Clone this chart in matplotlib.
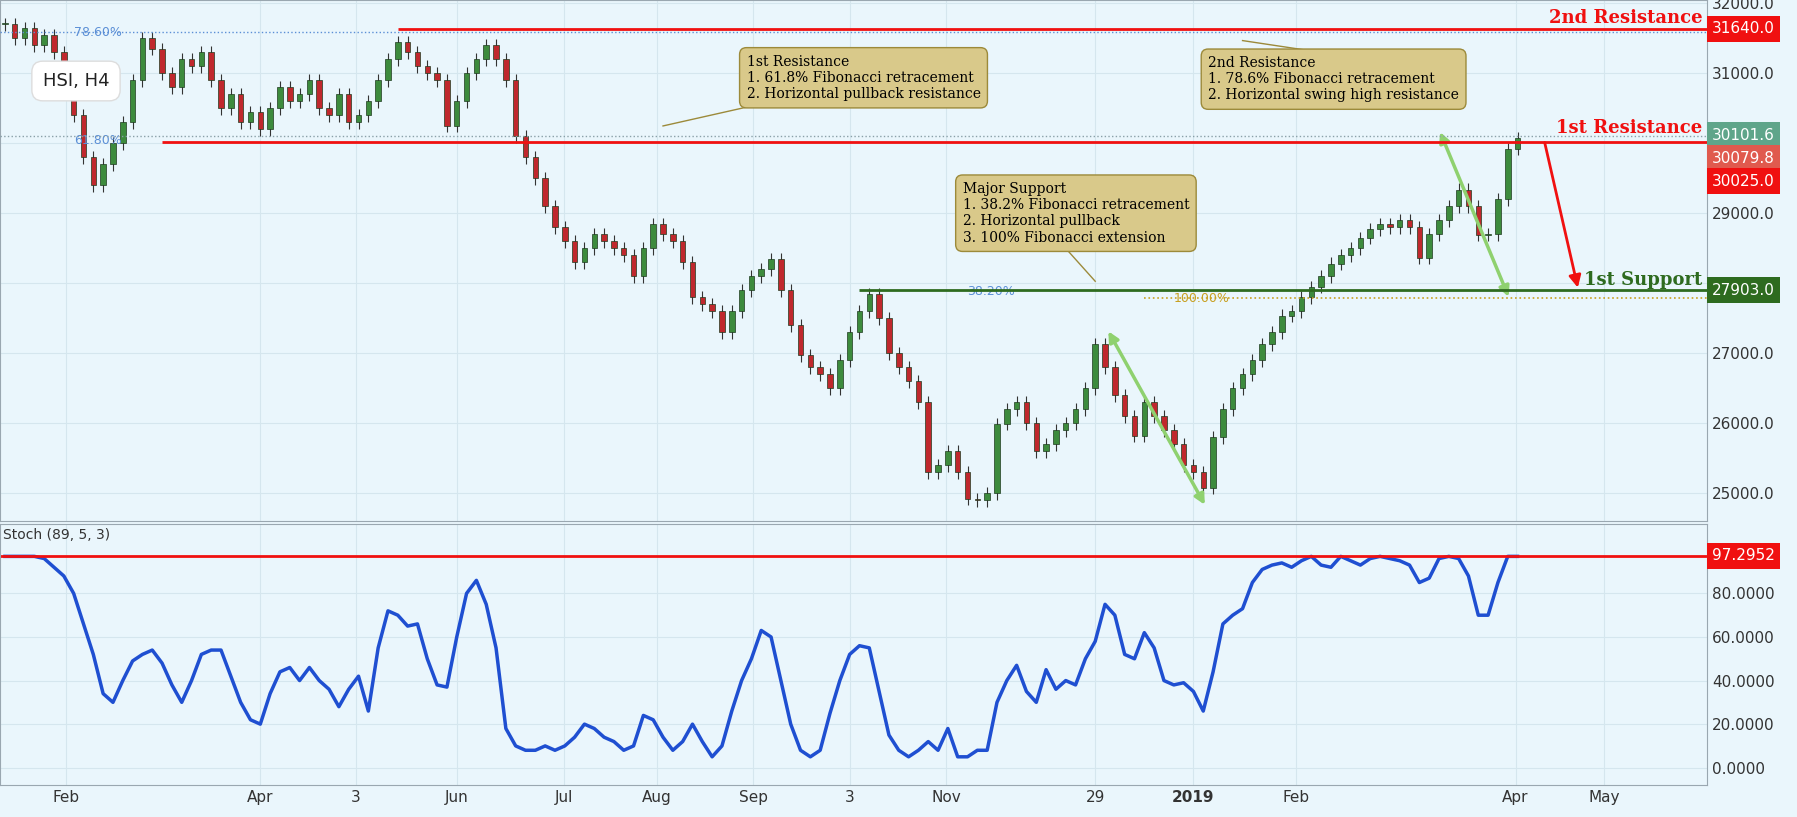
import matplotlib.pyplot as plt
import matplotlib.patches as mpatches
import numpy as np

# closes for each H4-ish candle
closes = [31700, 31500, 31650, 31400, 31550, 31300, 30900, 30400, 29800, 29400,
          29700, 30000, 30300, 30900, 31500, 31350, 31000, 30800, 31200, 31100,
          31300, 30900, 30500, 30700, 30300, 30450, 30200, 30500, 30800, 30600,
          30700, 30900, 30500, 30400, 30700, 30300, 30400, 30600, 30900, 31200,
          31450, 31300, 31100, 31000, 30900, 30250, 30600, 31000, 31200, 31400,
          31200, 30900, 30100, 29800, 29500, 29100, 28800, 28600, 28300, 28500,
          28700, 28600, 28500, 28400, 28100, 28500, 28850, 28700, 28600, 28300,
          27800, 27700, 27600, 27300, 27600, 27900, 28100, 28200, 28350, 27900,
          27400, 26970, 26800, 26700, 26500, 26900, 27300, 27600, 27850, 27500,
          27000, 26800, 26600, 26300, 25300, 25400, 25600, 25300, 24920, 24900,
          25000, 25990, 26200, 26300, 26000, 25600, 25700, 25900, 26000, 26200,
          26500, 27130, 26800, 26400, 26100, 25820, 26300, 26100, 25900, 25700,
          25400, 25300, 25080, 25800, 26200, 26500, 26700, 26900, 27130, 27300,
          27540, 27600, 27800, 27950, 28100, 28280, 28400, 28500, 28650, 28770,
          28850, 28800, 28900, 28800, 28360, 28700, 28900, 29100, 29340, 29100,
          28690, 28700, 29200, 29920, 30080]

stoch = [97, 97, 97, 97, 96, 92, 88, 80, 66, 52,
         34, 30, 40, 49, 52, 54, 48, 38, 30, 40,
         52, 54, 54, 42, 30, 22, 20, 34, 44, 46,
         40, 46, 40, 36, 28, 36, 42, 26, 55, 72,
         70, 65, 66, 50, 38, 37, 60, 80, 86, 75,
         55, 18, 10, 8, 8, 10, 8, 10, 14, 20,
         18, 14, 12, 8, 10, 24, 22, 14, 8, 12,
         20, 12, 5, 10, 26, 40, 50, 63, 60, 40,
         20, 8, 5, 8, 25, 40, 52, 56, 55, 35,
         15, 8, 5, 8, 12, 8, 18, 5, 5, 8,
         8, 30, 40, 47, 35, 30, 45, 36, 40, 38,
         50, 58, 75, 70, 52, 50, 62, 55, 40, 38,
         39, 35, 26, 44, 66, 70, 73, 85, 91, 93,
         94, 92, 95, 97, 93, 92, 97, 95, 93, 96,
         97, 96, 95, 93, 85, 87, 96, 97, 96, 88,
         70, 70, 85, 97, 97]

tick_pos = [6.2, 26, 35.7, 46, 56.9, 66.4, 76.2, 86, 95.8, 111, 121, 131.4, 153.8, 162.8]
tick_labels = ['Feb', 'Apr', '3', 'Jun', 'Jul', 'Aug', 'Sep', '3', 'Nov', '29', '2019', 'Feb', 'Apr', 'May']

res2 = 31640.0
fib786 = 31590.0
res1 = 30025.0
last_high = 30101.6
last_close = 30079.8
sup1 = 27903.0
ext100 = 27790.0
stoch_level = 97.2952

BG = '#eaf6fc'
RED = '#f01010'
GREEN = '#2e6b1f'
ARROW_G = '#8fd16f'
BOX = '#d9c98a'
XMAX = 173.3

fig = plt.figure(figsize=(17.97, 8.17), dpi=100)
fig.patch.set_facecolor(BG)
ax = fig.add_axes([0, 0.362, 0.950, 0.638])
ax2 = fig.add_axes([0, 0.039, 0.950, 0.320], sharex=ax)
for a in (ax, ax2):
    a.set_facecolor(BG)
    a.yaxis.tick_right()
    a.grid(color='#d5e6ee', lw=0.8)
    for s in a.spines.values():
        s.set_color('#9aa7b0')
    a.tick_params(colors='#333333', labelsize=11, length=0)

# candles
opens = [closes[0]] + closes[:-1]
for i, (o, c) in enumerate(zip(opens, closes)):
    up = c >= o
    col = '#3d8b3d' if up else '#c0282d'
    hi, lo = max(o, c) + 90, min(o, c) - 90
    ax.vlines(i, lo, hi, color='#333333', lw=0.8, zorder=2)
    ax.add_patch(mpatches.Rectangle((i - 0.28, min(o, c)), 0.56, max(abs(c - o), 15),
                                    facecolor=col, edgecolor='#1e3a1e', lw=0.5, zorder=3))

ax.set_xlim(-0.5, XMAX)
ax.set_ylim(24600, 32050)
yt = np.arange(25000, 32001, 1000)
ax.set_yticks(yt)
# 28000 and 30000 sit under the price tags, so they are left blank
ax.set_yticklabels(['' if v in (28000, 30000) else '%.1f' % v for v in yt])
plt.setp(ax.get_xticklabels(), visible=False)

# levels
ax.hlines(res2, 40, XMAX, color=RED, lw=2, zorder=4)
ax.hlines(fib786, -0.5, XMAX, color='#5b8fd6', lw=1, ls=':', zorder=4)
ax.hlines(res1, 16, XMAX, color=RED, lw=2, zorder=4)
ax.hlines(last_high, -0.5, XMAX, color='#8aa0a8', lw=1, ls=':', zorder=4)
ax.hlines(sup1, 87, XMAX, color=GREEN, lw=2, zorder=4)
ax.hlines(ext100, 116, XMAX, color='#c8a020', lw=1.2, ls=':', zorder=4)
ax.text(7, fib786, '78.60%', color='#5b8fd6', fontsize=9, va='center')
ax.text(7, res1 + 20, '61.80%', color='#5b8fd6', fontsize=9, va='center')
ax.text(98, sup1 - 20, '38.20%', color='#5b8fd6', fontsize=9, va='center')
ax.text(119, ext100, '100.00%', color='#c8a020', fontsize=9, va='center')

lab = dict(fontsize=13, fontweight='bold', family='DejaVu Serif', ha='right', va='bottom', zorder=9)
ax.text(172.8, res2 + 20, '2nd Resistance', color=RED, **lab)
ax.text(172.8, res1 + 60, '1st Resistance', color=RED, **lab)
ax.text(172.8, sup1 + 20, '1st Support', color=GREEN, **lab)

# right-axis price tags (stacked like the platform does)
for val, fc, pos in [(res2, RED, res2), (last_high, '#5fa58a', 30120), (last_close, '#e05a4e', 29790),
                     (res1, RED, 29460), (sup1, GREEN, sup1)]:
    ax.text(1.003, pos, '%.1f' % val, transform=ax.get_yaxis_transform(), color='white',
            fontsize=11, va='center', ha='left',
            bbox=dict(boxstyle='square,pad=0.35', fc=fc, ec='none'), clip_on=False, zorder=10)

# arrows
ap = dict(arrowstyle='<|-|>', color=ARROW_G, lw=2.5, mutation_scale=15)
ax.annotate('', xy=(122.3, 24800), xytext=(112.2, 27350), arrowprops=ap)
ax.annotate('', xy=(153.2, 27770), xytext=(146, 30200), arrowprops=ap)
ax.annotate('', xy=(160.2, 27900), xytext=(156.7, 30050),
            arrowprops=dict(arrowstyle='-|>', color=RED, lw=2, mutation_scale=18))

# callouts
kw = dict(fontsize=10, family='DejaVu Serif', va='top', ha='left', zorder=8,
          bbox=dict(boxstyle='round,pad=0.5', fc=BOX, ec='#9c8a3a'))
ax.text(75.5, 31270, '1st Resistance\n1. 61.8% Fibonacci retracement\n2. Horizontal pullback resistance', **kw)
ax.plot([67, 76.5], [30250, 30550], color='#9c8a3a', lw=1)
ax.text(122.5, 31250, '2nd Resistance\n1. 78.6% Fibonacci retracement\n2. Horizontal swing high resistance', **kw)
ax.plot([126, 135], [31470, 31280], color='#9c8a3a', lw=1)
ax.text(97.5, 29450, 'Major Support\n1. 38.2% Fibonacci retracement\n2. Horizontal pullback\n3. 100% Fibonacci extension', **kw)
ax.plot([108, 111], [28500, 28030], color='#9c8a3a', lw=1)

ax.text(0.025, 0.835, 'HSI, H4', transform=ax.transAxes, fontsize=13, color='#222222',
        bbox=dict(boxstyle='round,pad=0.6', fc='white', ec='#dddddd'))

# stochastic panel
ax2.plot(range(len(stoch)), stoch, color='#1f4fd1', lw=2.5)
ax2.axhline(stoch_level, color=RED, lw=2)
ax2.set_ylim(-8, 112)
ax2.set_yticks([0, 20, 40, 60, 80])
ax2.set_yticklabels(['%.4f' % v for v in [0, 20, 40, 60, 80]])
ax2.text(1.003, stoch_level, '%.4f' % stoch_level, transform=ax2.get_yaxis_transform(),
         color='white', fontsize=11, va='center', ha='left',
         bbox=dict(boxstyle='square,pad=0.35', fc=RED, ec='none'), clip_on=False)
ax2.text(0.002, 0.94, 'Stoch (89, 5, 3)', transform=ax2.transAxes, fontsize=10, color='#333333')
ax2.set_xticks(tick_pos)
ax2.set_xticklabels(tick_labels)
for t in ax2.get_xticklabels():
    if t.get_text() == '2019':
        t.set_fontweight('bold')

fig.savefig('out.png', dpi=100, facecolor=BG)
